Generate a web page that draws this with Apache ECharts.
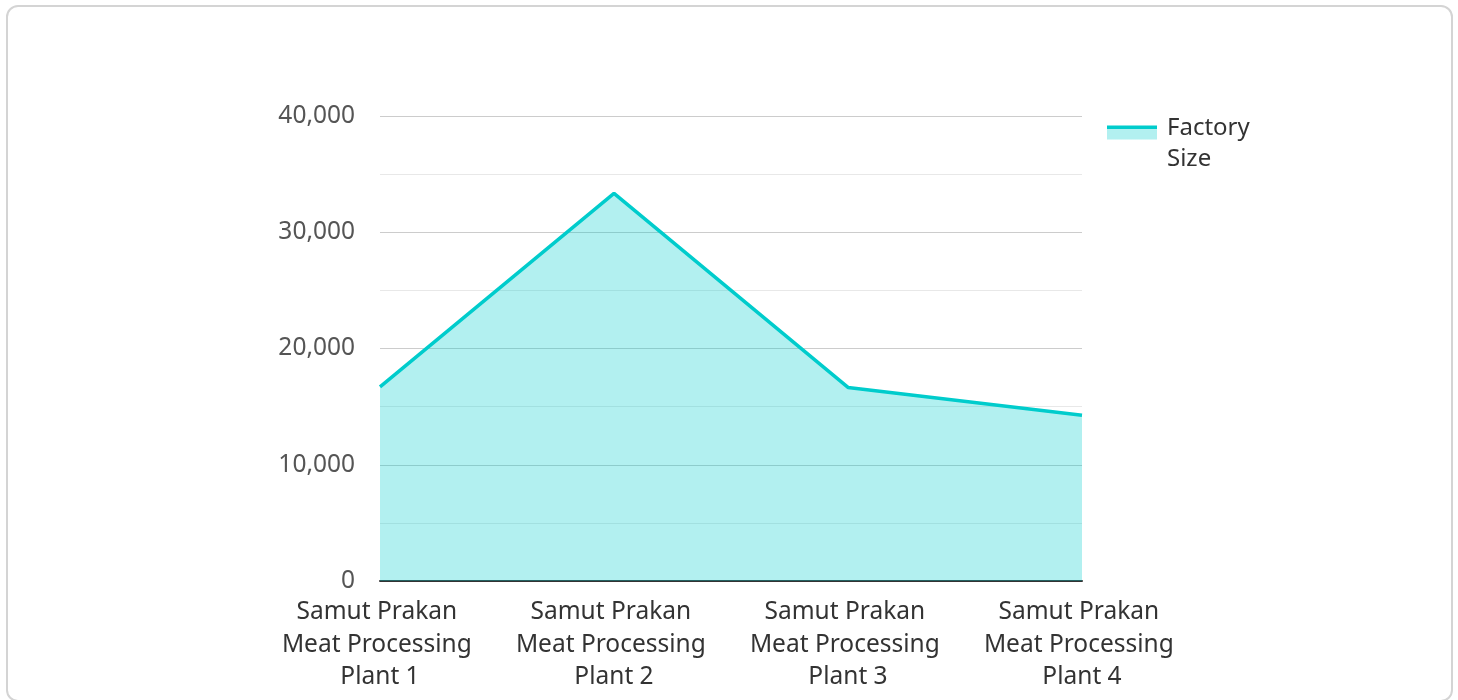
<!DOCTYPE html>
<html>
<head>
<meta charset="utf-8">
<script src="https://cdn.jsdelivr.net/npm/echarts@6/dist/echarts.min.js"></script>
<style>
  html, body { margin: 0; padding: 0; background: #fff; }
  #card { position: absolute; left: 6px; top: 5px; width: 1447px; height: 697px; border: 2px solid #d4d4d4; border-radius: 12px; box-sizing: border-box; }
  #chart { position: absolute; left: 0; top: 0; width: 1458px; height: 700px; }
</style>
</head>
<body>
<div id="card"></div>
<div id="chart"></div>
<script>
const categories = [
  'Samut Prakan Meat Processing Plant 1',
  'Samut Prakan Meat Processing Plant 2',
  'Samut Prakan Meat Processing Plant 3',
  'Samut Prakan Meat Processing Plant 4'
];
const factorySize = [16700, 33350, 16650, 14250];
const seriesName = 'Factory Size';

const chart = echarts.init(document.getElementById('chart'));
const font = '"Noto Sans", "Open Sans", sans-serif';
chart.setOption({
  animation: false,
  textStyle: { fontFamily: font },
  grid: { left: 380, right: 376, top: 116, bottom: 119, containLabel: false },
  legend: {
    show: true,
    orient: 'vertical',
    left: 1107,
    top: 90,
    padding: 0,
    icon: 'rect',
    itemWidth: 50,
    itemHeight: 14,
    itemGap: 10,
    data: [seriesName],
    formatter: name => '{gap| }\n' + name.replace(' ', '\n'),
    itemStyle: {
      color: new echarts.graphic.LinearGradient(0, 0, 0, 1, [
        { offset: 0, color: '#00CCCC' },
        { offset: 0.27, color: '#00CCCC' },
        { offset: 0.27, color: '#B2F0F0' },
        { offset: 1, color: '#B2F0F0' }
      ]),
      borderWidth: 0
    },
    textStyle: {
      fontFamily: font,
      fontSize: 24,
      color: '#333333',
      lineHeight: 31,
      padding: [0, 0, 0, 5],
      rich: {
        gap: { fontSize: 10, lineHeight: 23 }
      }
    }
  },
  xAxis: {
    type: 'category',
    data: categories,
    boundaryGap: false,
    axisLine: { show: true, lineStyle: { color: '#333333', width: 2 } },
    axisTick: { show: false },
    splitLine: { show: false },
    axisLabel: {
      interval: 0,
      margin: 15,
      fontFamily: font,
      fontSize: 24.5,
      color: '#333333',
      width: 212,
      overflow: 'break',
      lineHeight: 32.5,
      align: 'center'
    }
  },
  yAxis: {
    type: 'value',
    min: 0,
    max: 40000,
    interval: 10000,
    axisLine: { show: false },
    axisTick: { show: false },
    axisLabel: {
      margin: 25,
      fontFamily: font,
      fontSize: 24.5,
      color: '#555555',
      formatter: v => v.toLocaleString('en-US')
    },
    splitLine: { show: true, lineStyle: { color: '#CCCCCC', width: 1 } },
    minorTick: { show: false, splitNumber: 2 },
    minorSplitLine: { show: true, lineStyle: { color: '#E8E8E8', width: 1 } }
  },
  series: [{
    name: seriesName,
    type: 'line',
    data: factorySize,
    showSymbol: false,
    symbol: 'none',
    lineStyle: { color: '#00CCCC', width: 3.5 },
    itemStyle: { color: '#00CCCC' },
    areaStyle: { color: '#00CCCC', opacity: 0.3 }
  }]
});
</script>
</body>
</html>
